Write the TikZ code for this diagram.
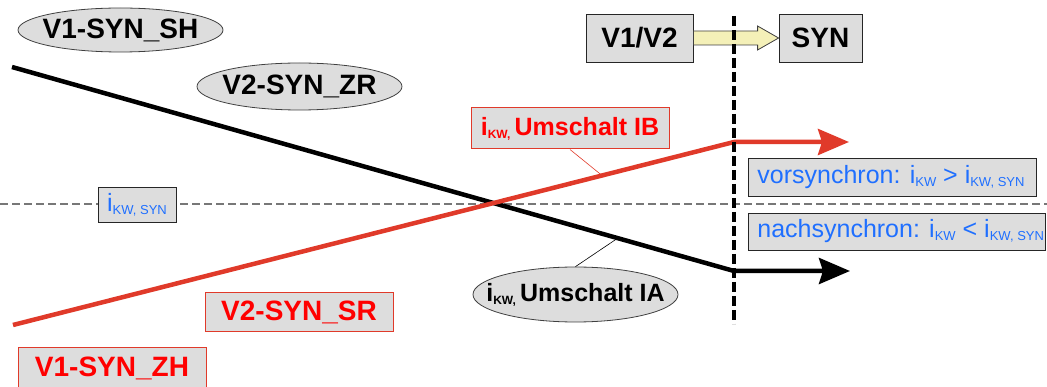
\documentclass[tikz,border=0pt]{standalone}
\usepackage{fontspec}
\setmainfont{Liberation Sans}
\usetikzlibrary{calc,arrows.meta,shapes.geometric}

\definecolor{boxgray}{HTML}{DDDDDD}
\definecolor{synblue}{HTML}{1F6FFF}
\definecolor{ibred}{HTML}{FF0000}
\definecolor{linered}{HTML}{E03A2A}
\definecolor{arrowyellow}{HTML}{F4F0B8}
\definecolor{gridgray}{HTML}{777777}

% lowered, smaller index text (e.g. the KW in i_KW)
\newcommand{\lowidx}[2][13]{\raisebox{-3pt}{\fontsize{#1}{#1}\selectfont #2}}

\begin{document}
\begin{tikzpicture}[x=1pt,y=-1pt,
  plate/.style={rectangle, draw=black!85, fill=boxgray, line width=0.8pt, inner sep=0pt},
  oval/.style={ellipse, draw=black!75, fill=boxgray, line width=0.8pt, inner sep=0pt},
  redplate/.style={rectangle, draw=linered, fill=boxgray, line width=1pt, inner sep=0pt, text=ibred},
  heavy/.style={font=\fontsize{28}{30}\selectfont\bfseries},
  medbold/.style={font=\fontsize{25}{28}\selectfont\bfseries},
  bluetxt/.style={text=synblue, font=\fontsize{25}{28}\selectfont},
  note/.style={plate, bluetxt, anchor=west, inner xsep=9pt},
  trace/.style={line width=4.5pt, line join=round, -{Stealth[length=31pt,width=26pt,inset=4pt]}},
  leader/.style={line width=0.6pt},
]
\useasboundingbox (0,0) rectangle (1047,387);

% synchronous speed reference
\coordinate (synL) at (0,204);
\coordinate (synR) at (1047,204);
\draw[gridgray, line width=1.4pt, dash pattern=on 8pt off 4pt] (synL) -- (synR);

% current traces
\coordinate (kA) at (12,67);
\coordinate (kB) at (734,271);
\coordinate (kC) at (850,271);
\coordinate (rA) at (13,325);
\coordinate (rB) at (734,142);
\coordinate (rC) at (849,142);
\draw[trace, black] (kA) -- (kB) -- (kC);
\draw[trace, linered] (rA) -- (rB) -- (rC);

% switch-over header
\node[plate, heavy, minimum width=107pt, minimum height=48pt] (v12) at (639.5,38) {V1/V2};
\node[plate, heavy, minimum width=83pt, minimum height=48pt] (syn) at (820.5,38) {SYN};
\draw[fill=arrowyellow, draw=black!75, line width=0.8pt]
  ($(v12.east)+(0,-7)$) -- ($(syn.west)+(-21,-7)$) -- ($(syn.west)+(-21,-12)$)
  -- (syn.west) -- ($(syn.west)+(-21,12)$) -- ($(syn.west)+(-21,7)$)
  -- ($(v12.east)+(0,7)$) -- cycle;

% switch-over instant
\coordinate (sepTop) at (734,16);
\coordinate (sepBot) at (734,324);
\draw[line width=3.2pt, dash pattern=on 10pt off 4pt] (sepTop) -- (sepBot);

% mode labels
\node[oval, heavy, minimum width=205pt, minimum height=44pt] (sh) at (120.5,30) {\makebox[0pt]{V1-SYN\_SH}};
\node[oval, heavy, minimum width=205pt, minimum height=47pt] (zr) at (299.5,86.5) {\makebox[0pt]{V2-SYN\_ZR}};
\node[redplate, heavy, minimum width=188pt, minimum height=39pt] (sr) at (299,312.5) {V2-SYN\_SR};
\node[redplate, heavy, minimum width=188pt, minimum height=40pt] (zh) at (112,368) {V1-SYN\_ZH};

% switch-over current labels
\node[redplate, medbold, minimum width=198pt, minimum height=41pt] (ib) at (570,128.5) {i\lowidx[12]{KW,}\,Umschalt IB};
\node[oval, medbold, minimum width=205pt, minimum height=55pt] (ia) at (575.5,294.5) {\makebox[0pt]{i\lowidx[12]{KW,}\,Umschalt IA}};
\draw[leader, linered] (ib.south) -- ($(rA)!0.817!(rB)$);
\draw[leader, black] (ia.north) -- ($(kA)!0.839!(kB)$);

% synchronous current and regions
\node[plate, bluetxt, minimum width=78pt, minimum height=35pt] (isyn) at (137,204.5) {i\lowidx{KW, SYN}};
\node[note, minimum height=38pt] (vor) at (748,177) {\makebox[270pt][l]{vorsynchron: i\lowidx{KW} > i\lowidx{KW, SYN}}};
\node[note, minimum height=37pt] (nach) at (748,231.5) {\makebox[279pt][l]{nachsynchron: i\lowidx{KW} < i\lowidx{KW, SYN}}};
\end{tikzpicture}
\end{document}
